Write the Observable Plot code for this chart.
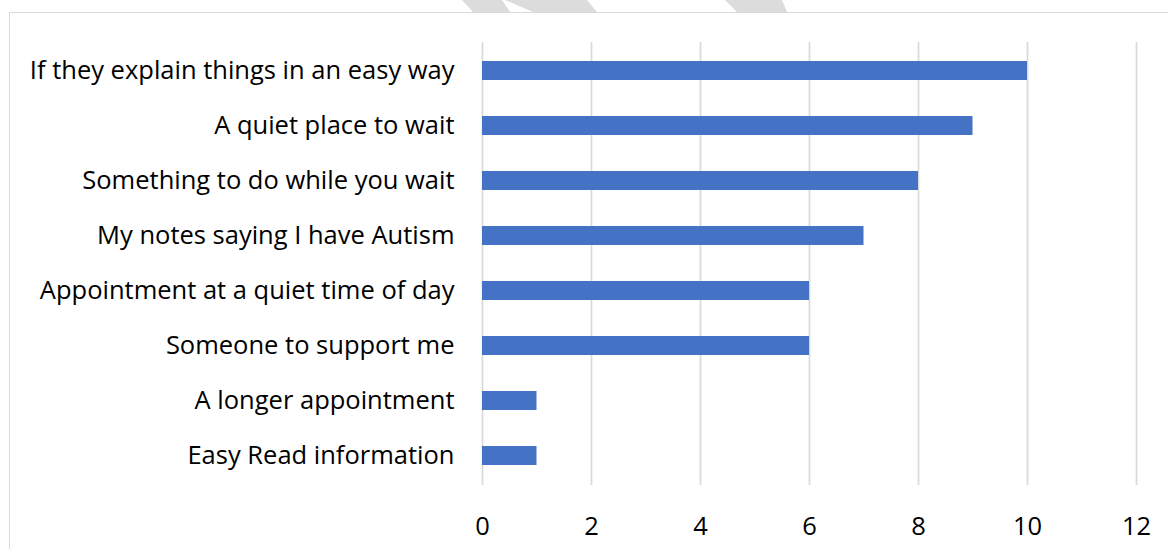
<!DOCTYPE html>
<html><head><meta charset="utf-8">
<script src="https://cdn.jsdelivr.net/npm/d3@7"></script>
<script src="https://cdn.jsdelivr.net/npm/@observablehq/plot@0.6"></script>
<style>
body{margin:0;background:#fff;overflow:hidden}
#wrap{position:relative;width:1168px;height:549px;overflow:hidden}
#frame{position:absolute;left:9px;top:12px;width:1200px;height:600px;border:1.5px solid #d9d9d9;box-sizing:border-box;background:#fff;z-index:1}
#wm{position:absolute;left:0;top:0;z-index:0;display:block}
#chart{position:absolute;left:0;top:0;z-index:2}
</style>
</head><body>
<div id="wrap">
<svg id="wm" width="1168" height="12" viewBox="0 0 1168 12">
<polygon points="462,0 502,0 510,12 473,12" fill="#dcdcdc"/>
<polygon points="505,0 587,0 597,12 533,12" fill="#dcdcdc"/>
<polygon points="725,0 782,0 787,12 737,12" fill="#dcdcdc"/>
</svg>
<div id="frame"></div>
<div id="chart"></div>
</div>
<script>
const categories = [
  "If they explain things in an easy way",
  "A quiet place to wait",
  "Something to do while you wait",
  "My notes saying I have Autism",
  "Appointment at a quiet time of day",
  "Someone to support me",
  "A longer appointment",
  "Easy Read information"
];
const values = [10, 9, 8, 7, 6, 6, 1, 1];
const xTicks = [0, 2, 4, 6, 8, 10, 12];

const data = categories.map((c, i) => ({category: c, value: values[i]}));

const chart = Plot.plot({
  width: 1168,
  height: 549,
  marginLeft: 482,
  marginRight: 32,
  marginTop: 42,
  marginBottom: 64,
  style: {fontFamily: "'Open Sans', sans-serif", fontSize: "25.5px", color: "#000", background: "transparent"},
  x: {domain: [0, 12], ticks: xTicks, tickSize: 0, tickPadding: 31, label: null},
  y: {domain: categories, paddingInner: 0.65, paddingOuter: 0.325, tickSize: 0, tickPadding: 28, label: null},
  marks: [
    Plot.ruleX(xTicks, {stroke: "#d9d9d9", strokeWidth: 1.7}),
    Plot.barX(data, {x: "value", y: "category", fill: "#4472C4"})
  ]
});
document.getElementById("chart").appendChild(chart);
</script></body></html>
